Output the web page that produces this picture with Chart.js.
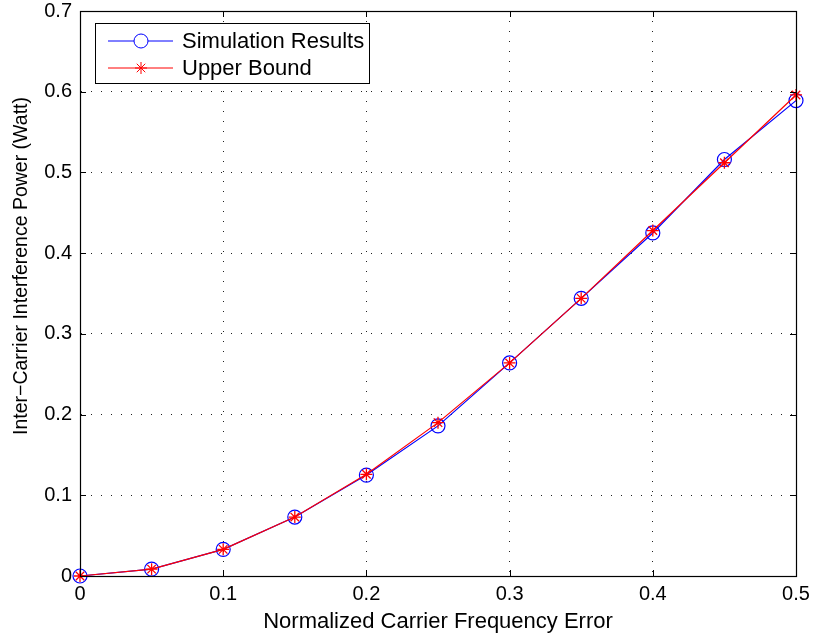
<!DOCTYPE html>
<html>
<head>
<meta charset="utf-8">
<script src="https://cdn.jsdelivr.net/npm/chart.js@4.4.1/dist/chart.umd.min.js"></script>
<style>
    html, body { margin: 0; padding: 0; background: #fff; }
    #wrap { width: 815px; height: 637px; position: relative; }
</style>
</head>
<body>
<div id="wrap"><canvas id="iciChart"></canvas></div>
<script>
// values
const cfoValues = [0, 0.05, 0.1, 0.15, 0.2, 0.25, 0.3, 0.35, 0.4, 0.45, 0.5];
const simulationResults = [0, 0.0085, 0.033, 0.073, 0.125, 0.186, 0.264, 0.344, 0.425, 0.516, 0.589];
const upperBound = [0, 0.0085, 0.033, 0.073, 0.126, 0.190, 0.264, 0.344, 0.428, 0.512, 0.596];
const xTicks = [0, 0.1, 0.2, 0.3, 0.4, 0.5];
const yTicks = [0, 0.1, 0.2, 0.3, 0.4, 0.5, 0.6, 0.7];

const FONT = '"Liberation Sans", Arial, Helvetica, sans-serif';

// axes box, inward ticks, legend and axis labels (MATLAB look)
const matlabAxes = {
    id: 'matlabAxes',
    afterDraw(chart) {
        const { ctx, chartArea: a, scales } = chart;
        ctx.save();
        ctx.strokeStyle = '#000';
        ctx.lineWidth = 1.2;
        ctx.strokeRect(Math.round(a.left) + 0.5, Math.round(a.top) + 0.5,
            Math.round(a.right - a.left), Math.round(a.bottom - a.top));

        const tl = 6;
        ctx.lineWidth = 1;
        ctx.beginPath();
        xTicks.forEach(v => {
            const x = Math.round(scales.x.getPixelForValue(v)) + 0.5;
            ctx.moveTo(x, a.bottom); ctx.lineTo(x, a.bottom - tl);
            ctx.moveTo(x, a.top); ctx.lineTo(x, a.top + tl);
        });
        yTicks.forEach(v => {
            const y = Math.round(scales.y.getPixelForValue(v)) + 0.5;
            ctx.moveTo(a.left, y); ctx.lineTo(a.left + tl, y);
            ctx.moveTo(a.right, y); ctx.lineTo(a.right - tl, y);
        });
        ctx.stroke();

        // legend
        const bx = 95.5, by = 23.5, bw = 274, bh = 60;
        ctx.fillStyle = '#fff';
        ctx.fillRect(bx, by, bw, bh);
        ctx.strokeRect(bx, by, bw, bh);
        ctx.font = '22px ' + FONT;
        ctx.textBaseline = 'middle';
        chart.data.datasets.forEach((ds, i) => {
            const y = 41 + i * 27;
            ctx.strokeStyle = ds.borderColor;
            ctx.lineWidth = 1;
            ctx.beginPath();
            ctx.moveTo(108, y); ctx.lineTo(173, y);
            ctx.stroke();
            Chart.helpers.drawPoint(ctx, {
                pointStyle: ds.pointStyle, radius: ds.pointRadius,
                borderWidth: 1, rotation: 0
            }, 141, y);
            ctx.fillStyle = '#000';
            ctx.fillText(ds.label, 182, y + 1);
        });

        // axis titles
        ctx.fillStyle = '#000';
        ctx.textAlign = 'center';
        ctx.textBaseline = 'middle';
        ctx.font = '22px ' + FONT;
        ctx.fillText('Normalized Carrier Frequency Error', (a.left + a.right) / 2, 622);
        ctx.translate(22, 266);
        ctx.rotate(-Math.PI / 2);
        ctx.font = '19.5px ' + FONT;
        ctx.fillText('Inter\u2212Carrier Interference Power (Watt)', 0, 0);
        ctx.restore();
    }
};

const gridStyle = {
    color: '#222',
    lineWidth: 1,
    drawTicks: false
};

new Chart(document.getElementById('iciChart'), {
    type: 'line',
    data: {
        datasets: [
            {
                label: 'Simulation Results',
                data: cfoValues.map((x, i) => ({ x, y: simulationResults[i] })),
                order: 2,
                borderColor: '#0000ff',
                backgroundColor: 'transparent',
                borderWidth: 1.2,
                pointStyle: 'circle',
                pointRadius: 7,
                pointBorderWidth: 1.2,
                pointBorderColor: '#0000ff',
                pointBackgroundColor: 'transparent',
                tension: 0,
                clip: false
            },
            {
                label: 'Upper Bound',
                data: cfoValues.map((x, i) => ({ x, y: upperBound[i] })),
                order: 1,
                borderColor: '#ff0000',
                backgroundColor: 'transparent',
                borderWidth: 1.2,
                pointStyle: 'star',
                pointRadius: 6,
                pointBorderWidth: 1.3,
                pointBorderColor: '#ff0000',
                tension: 0,
                clip: false
            }
        ]
    },
    options: {
        responsive: true,
        maintainAspectRatio: false,
        animation: false,
        layout: { padding: { top: 11, right: 19, left: 0, bottom: 0 } },
        plugins: {
            legend: { display: false },
            tooltip: { enabled: false }
        },
        scales: {
            x: {
                type: 'linear',
                min: 0,
                max: 0.5,
                afterFit: s => { s.height = 61; s.paddingLeft = 0; s.paddingRight = 0; },
                afterBuildTicks: s => { s.ticks = xTicks.map(v => ({ value: v })); },
                ticks: {
                    color: '#000',
                    font: { family: FONT, size: 20 },
                    padding: 6,
                    maxRotation: 0,
                    callback: v => String(v)
                },
                grid: { ...gridStyle },
                border: { display: true, color: '#000', dash: [1, 9] }
            },
            y: {
                type: 'linear',
                min: 0,
                max: 0.7,
                afterFit: s => { s.width = 80; s.paddingTop = 0; s.paddingBottom = 0; },
                afterBuildTicks: s => { s.ticks = yTicks.map(v => ({ value: v })); },
                ticks: {
                    color: '#000',
                    font: { family: FONT, size: 20 },
                    padding: 8,
                    callback: v => String(v)
                },
                grid: { ...gridStyle },
                border: { display: true, color: '#000', dash: [1, 9] }
            }
        }
    },
    plugins: [matlabAxes]
});
</script>
</body>
</html>
